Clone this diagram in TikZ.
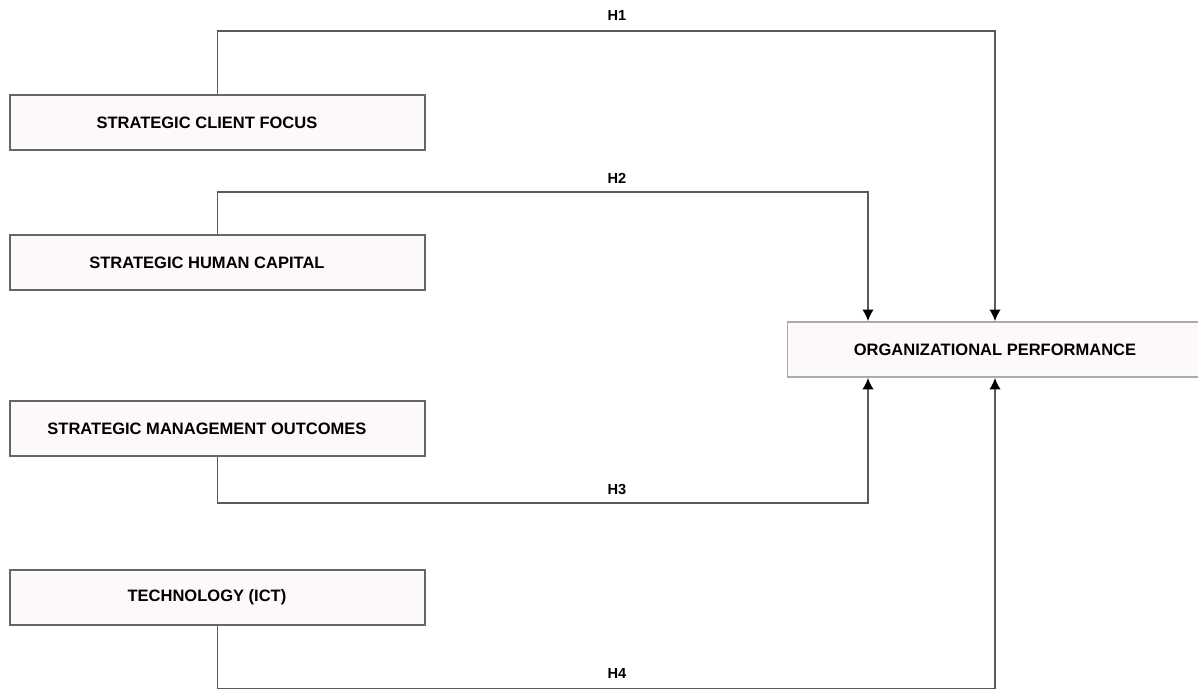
\documentclass[tikz,border=0pt]{standalone}
\usepackage{fontspec}
\setmainfont{Liberation Sans}
\usepackage{tikz}
\usetikzlibrary{arrows,arrows.meta}
\usetikzlibrary{shapes,positioning,calc}
\definecolor{boxfill}{HTML}{FCF9F8}
\definecolor{boxline}{HTML}{666666}
\definecolor{opline}{HTML}{AAAAAA}
\definecolor{connline}{HTML}{5A5A5A}

\begin{document}
\begin{tikzpicture}[>={Latex[length=6.5pt,width=6.5pt,color=black]}, x=0.02cm, y=-0.02cm,
	box/.style={draw=boxline, line width=1pt, fill=boxfill, rectangle, align=center, minimum height=1.1cm, minimum width=8.3cm, inner sep=0pt, font=\fontsize{9.4}{11}\selectfont\bfseries},
	conn/.style={draw=connline, line width=1pt},
	hyp/.style={font=\fontsize{8.3}{10}\selectfont\bfseries}]
		\useasboundingbox (0,0) rectangle (1198,689);
		\node[box] (scf) at (217.5,122.5) {STRATEGIC CLIENT FOCUS\hspace*{12pt}};
		\node[box] (shc) at (217.5,262.5) {STRATEGIC HUMAN CAPITAL\hspace*{12pt}};
		\node[box] (smo) at (217.5,428.5) {STRATEGIC MANAGEMENT OUTCOMES\hspace*{12pt}};
		\node[box] (ict) at (217.5,597.5) {TECHNOLOGY (ICT)\hspace*{12pt}};
		\node[box, draw=opline, minimum width=8.3cm] (op) at (995,349.5) {ORGANIZATIONAL PERFORMANCE};
		
		\draw[conn, ->] (scf.north) -- ++(0,-63) -| (op.north);
		\draw[conn, ->] (shc.north) -- ++(0,-42) -| ($ (op.north) + (-127,0) $);
		\draw[conn, ->] (smo.south) -- ++(0,46) -| ($ (op.south) + (-127,0) $);
		\draw[conn, ->] (ict.south) -- ++(0,63) -| (op.south);
		
		\node[hyp] (h1) at (617,15) {H1};
		\node[hyp] (h2) at (617,178) {H2};
		\node[hyp] (h3) at (617,489) {H3};
		\node[hyp] (h4) at (617,673) {H4};
		\end{tikzpicture}
\end{document}
